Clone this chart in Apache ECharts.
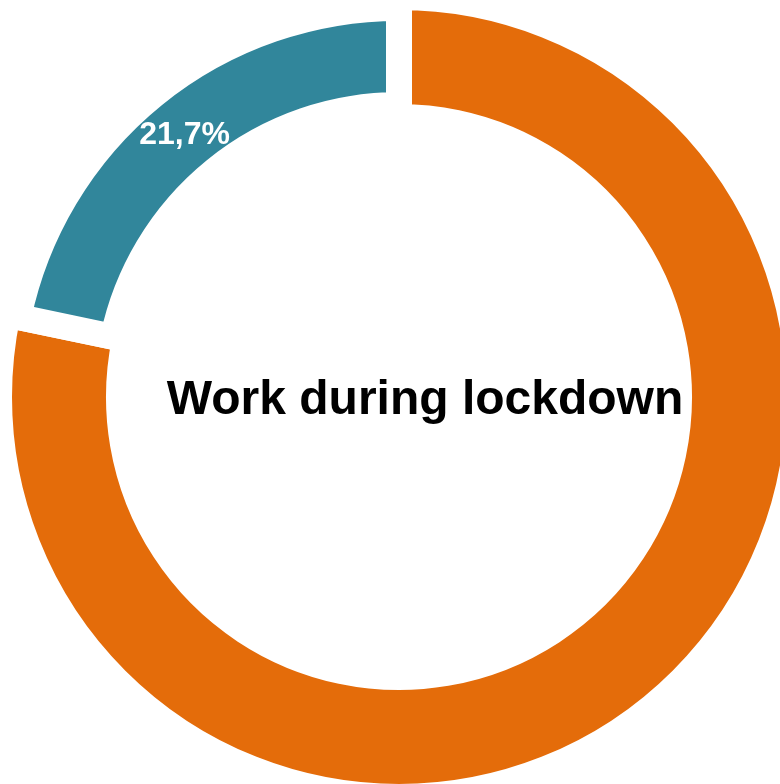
<!DOCTYPE html>
<html>
<head>
<meta charset="utf-8">
<script src="https://cdn.jsdelivr.net/npm/echarts@6/dist/echarts.min.js"></script>
<style>
html,body{margin:0;padding:0;background:#fff;}
#chart{width:780px;height:784px;}
</style>
</head>
<body>
<div id="chart"></div>
<script>
var categories = ['Worked', 'Did not work'];
var values = [78.3, 21.7];
var colors = ['#E46C0A', '#31869B'];
var centerTitle = 'Work during lockdown';

function fmt(v) { return v.toFixed(1).replace('.', ',') + '%'; }

function makeData(activeIndex) {
  return categories.map(function (name, i) {
    var on = i === activeIndex;
    return {
      name: name,
      value: values[i],
      itemStyle: on ? { color: colors[i], borderColor: '#ffffff', borderWidth: 26 }
                    : { color: 'transparent', borderWidth: 0 },
      label: { show: on && i === 1 }
    };
  });
}

var labelStyle = {
  position: 'inside',
  color: '#ffffff',
  fontFamily: 'Liberation Sans, Arial, sans-serif',
  fontWeight: 'bold',
  fontSize: 32,
  offset: [2, 5],
  formatter: function (p) { return fmt(p.value); }
};

var chart = echarts.init(document.getElementById('chart'), null, { renderer: 'canvas' });
chart.setOption({
  animation: false,
  series: [
    {
      type: 'pie',
      center: [399, 397],
      radius: [280, 400],
      startAngle: 90,
      clockwise: true,
      silent: true,
      z: 1,
      emphasis: { disabled: true },
      label: labelStyle,
      labelLine: { show: false },
      data: makeData(0)
    },
    {
      type: 'pie',
      center: [399, 397],
      radius: [292, 389],
      startAngle: 90,
      clockwise: true,
      silent: true,
      z: 1,
      emphasis: { disabled: true },
      label: labelStyle,
      labelLine: { show: false },
      data: makeData(1)
    }
  ],
  graphic: [
    {
      type: 'text',
      x: 425,
      y: 401,
      z: 100,
      zlevel: 1,
      style: {
        text: centerTitle,
        fill: '#000000',
        font: 'bold 48px "Liberation Sans", Arial, sans-serif',
        textAlign: 'center',
        textVerticalAlign: 'middle'
      }
    }
  ]
});
</script>
</body>
</html>
